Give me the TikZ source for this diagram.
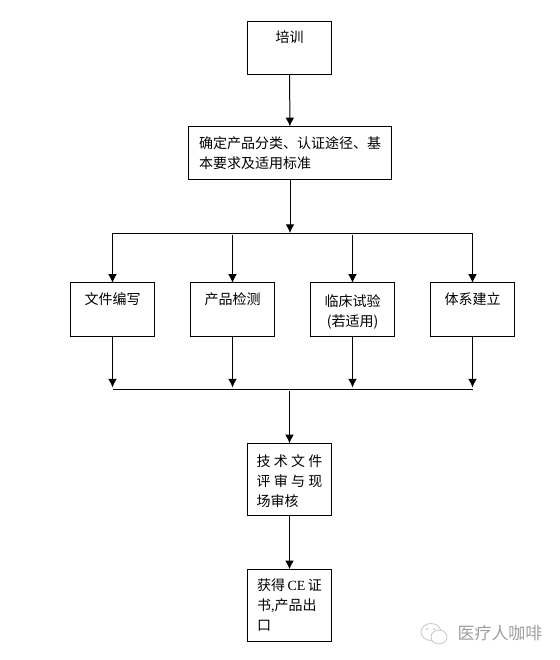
\documentclass[tikz,border=0pt]{standalone}
\usepackage{fontspec}
\setmainfont{Noto Sans CJK SC}
\newfontfamily\latinfont{Liberation Serif}
\usetikzlibrary{arrows.meta}
\newcommand{\wgap}{\hspace{2.4pt}}
\newcommand{\tgap}{\mbox{}\\[-3pt]}
\tikzset{
    flowbox/.style={draw, line width=0.75pt, inner sep=0pt, outer sep=0pt, minimum width=63pt, minimum height=40pt,
        align=left, text=black, font=\fontsize{10.5}{15}\selectfont},
    flowline/.style={line width=0.75pt},
    flowarrow/.style={line width=0.75pt, -{Latex[length=6.5pt,width=6.5pt]}},
    markcol/.style={draw=black!22, line width=0.6pt}
}
\begin{document}
\begin{tikzpicture}[x=0.75pt,y=-0.75pt]
    \useasboundingbox (0,0) rectangle (560,660);

    % Boites
    \node[flowbox] (train) at (289.5,48) {\tgap 培训\\\strut};
    \node[flowbox, minimum width=152.8pt] (scope) at (290,153) {确定产品分类、认证途径、基\\本要求及适用标准};
    \node[flowbox] (docs) at (112.5,309.5) {\tgap 文件编写\\\strut};
    \node[flowbox] (test) at (232.5,309.5) {\tgap 产品检测\\\strut};
    \node[flowbox, align=center] (clin) at (352.5,309.5) {\tgap 临床试验\\(若适用)};
    \node[flowbox] (syst) at (472.5,309.5) {\tgap 体系建立\\\strut};
    \node[flowbox, minimum height=54pt] (audit) at (289.5,479.3) {\tgap 技\wgap 术\wgap 文\wgap 件\\评\wgap 审\wgap 与\wgap 现\\场审核};
    \node[flowbox, minimum height=54pt] (cert) at (289.5,605.3) {获得{\latinfont\,CE\,}证\\书{\latinfont,}产品出\\口};

    % Barres
    \coordinate (topl) at (112.5,233);
    \coordinate (topm) at (290,233);
    \coordinate (topt) at (232.5,235);
    \coordinate (topc) at (352.5,235);
    \coordinate (topr) at (472.5,233);
    \coordinate (botl) at (112.5,389.5);
    \coordinate (bott) at (232.5,389.5);
    \coordinate (botc) at (352.5,389.5);
    \coordinate (botr) at (472.5,389.5);
    \coordinate (botm) at (289.5,391);
    \draw[flowline] (topl) -- (topr);
    \draw[flowline] (botl) -- (botr);

    % Haut
    \draw[flowarrow] (train) -- (scope);
    \draw[flowarrow] (scope) -- (topm);

    % Branches
    \draw[flowarrow] (topl) -- (docs);
    \draw[flowarrow] (topt) -- (test);
    \draw[flowarrow] (topc) -- (clin);
    \draw[flowarrow] (topr) -- (syst);
    \draw[flowarrow, shorten >=1.5pt] (docs) -- (botl);
    \draw[flowarrow, shorten >=1.5pt] (test) -- (bott);
    \draw[flowarrow, shorten >=1.5pt] (clin) -- (botc);
    \draw[flowarrow, shorten >=1.5pt] (syst) -- (botr);

    % Bas
    \draw[flowarrow] (botm) -- (audit);
    \draw[flowarrow] (audit) -- (cert);

    % Filigrane
    \draw[markcol] (431,632) ellipse (10 and 8.5);
    \draw[markcol, fill=white] (439,637) ellipse (8 and 7);
    \fill[black!25] (427,629) circle (1) (434,629) circle (1);
    \node[text=black!38, inner sep=0pt, font=\fontsize{12.7}{14}\selectfont] (mark) at (500,633) {医疗人咖啡};
\end{tikzpicture}
\end{document}
